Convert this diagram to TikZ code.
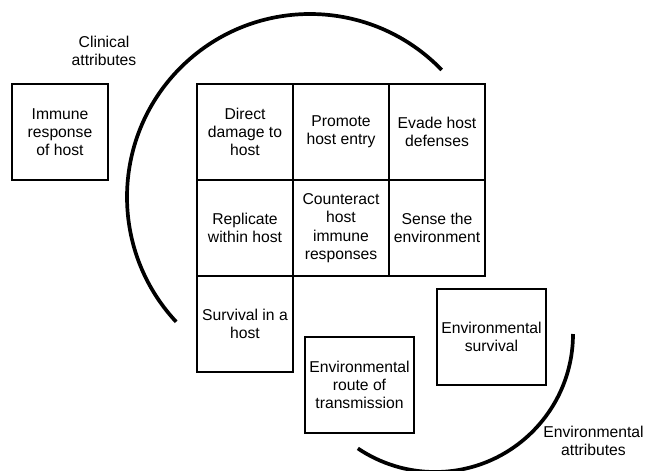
\documentclass[tikz,border=0pt]{standalone}
\usepackage{fontspec}
\setmainfont{Liberation Sans}
\begin{document}
\begin{tikzpicture}[x=1pt,y=-1pt,
  txt/.style={font=\fontsize{15.7}{18.3}\selectfont, align=center, inner sep=0pt},
  box/.style={txt, draw, line width=1.3pt},
  cell/.style={box, minimum width=96pt, minimum height=96pt},
  wbox/.style={box, minimum width=109pt, minimum height=96pt},
  bigarc/.style={line width=3.7pt}]
\useasboundingbox (0,0) rectangle (645,471);
% grid of cells
\node[cell] (dd) at (245,132) {Direct\\damage to\\host};
\node[cell] (pe) at (341,132) {Promote\\host entry};
\node[cell] (ev) at (437,132) {Evade host\\defenses};
\node[cell] (rw) at (245,228) {Replicate\\within host};
\node[cell] (ch) at (341,228) {Counteract\\host\\immune\\responses};
\node[cell] (se) at (437,228) {Sense the\\environment};
\node[cell] (sv) at (245,324) {Survival in a\\host};
% separate boxes
\node[cell] (im) at (60,132) {Immune\\response\\of host};
\node[wbox] (er) at (359.5,385) {Environmental\\route of\\transmission};
\node[wbox] (es) at (491.5,337) {Environmental\\survival};
% labels
\node[txt] (cl) at (104,51) {Clinical\\attributes};
\node[txt] (ea) at (593.5,441) {Environmental\\attributes};
% arcs
\coordinate (c1) at (310,197);
\draw[bigarc] (c1) ++(44:183pt) arc[start angle=44, end angle=223, radius=183pt];
\coordinate (c2) at (435,334);
\draw[bigarc] (c2) ++(0:138pt) arc[start angle=0, end angle=-124, radius=138pt];
\end{tikzpicture}
\end{document}
